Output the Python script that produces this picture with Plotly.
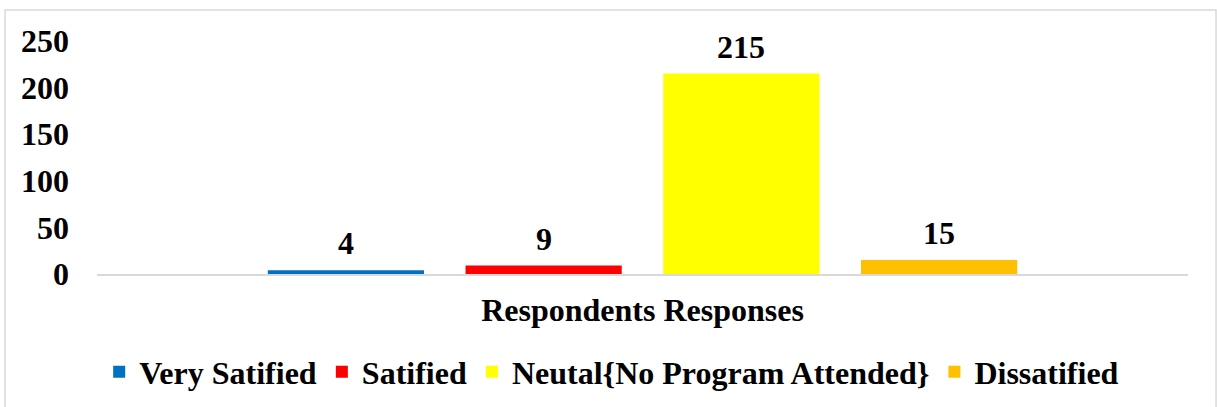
import plotly.graph_objects as go

categories = ["Respondents Responses"]
series_names = ["Very Satified", "Satified", "Neutal{No Program Attended}", "Dissatified"]
series_values = [4, 9, 215, 15]
series_colors = ["#0070C0", "#FF0000", "#FFFF00", "#FFC000"]
y_ticks = [0, 50, 100, 150, 200, 250]

FONT = "Liberation Serif"
FS = 32
BARGAP = 0.275
BARGROUPGAP = 0.21

fig = go.Figure()
for name, val, col in zip(series_names, series_values, series_colors):
    fig.add_trace(go.Bar(
        x=categories, y=[val], name=name,
        marker=dict(color=col, line=dict(width=0)),
        hoverinfo="name+y",
    ))

# data labels placed above each bar
n = len(series_names)
slot = (1 - BARGAP) / n
annotations = []
for i, val in enumerate(series_values):
    xc = -0.5 * (1 - BARGAP) + slot * (i + 0.5)
    annotations.append(dict(
        x=xc, y=val, xref="x", yref="y", text=f"<b>{val}</b>",
        showarrow=False, yanchor="bottom", yshift=7,
        font=dict(family=FONT, size=FS, color="#000000"),
    ))

fig.update_layout(
    width=1217, height=407,
    margin=dict(l=97, r=29, t=41, b=133, autoexpand=False),
    paper_bgcolor="white", plot_bgcolor="white",
    barmode="group", bargap=BARGAP, bargroupgap=BARGROUPGAP,
    font=dict(family=FONT, size=FS, color="#000000"),
    showlegend=True,
    legend=dict(
        orientation="h", x=0.002, xanchor="left", y=-0.42, yanchor="middle",
        font=dict(family=FONT, size=FS, color="#000000", weight="bold"),
        itemwidth=30, traceorder="normal",
    ),
    annotations=annotations,
    shapes=[dict(
        type="rect", xref="paper", yref="paper",
        x0=-0.0843, x1=1.0257, y0=-0.58, y1=1.133,
        line=dict(color="#D9D9D9", width=1.5), fillcolor="rgba(0,0,0,0)", layer="below",
    )],
)
fig.update_xaxes(
    type="category", showgrid=False, zeroline=False, automargin=False,
    showline=True, linecolor="#D9D9D9", linewidth=2,
    ticks="", ticklabelstandoff=7,
    tickfont=dict(family=FONT, size=FS, color="#000000", weight="bold"),
)
fig.update_yaxes(
    range=[0, 250], tickvals=y_ticks, showgrid=False, zeroline=False, automargin=False,
    showline=False, ticks="", ticklabelstandoff=27,
    tickfont=dict(family=FONT, size=FS, color="#000000", weight="bold"),
)

fig.write_html("out.html")
